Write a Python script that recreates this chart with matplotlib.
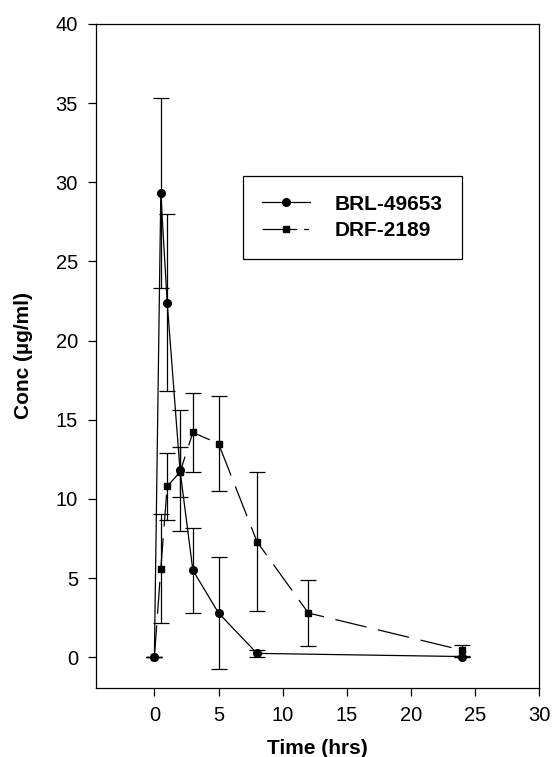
import matplotlib
matplotlib.use("Agg")
import matplotlib.pyplot as plt
from matplotlib.lines import Line2D

plt.rcParams['font.family'] = ['Liberation Sans', 'DejaVu Sans']
plt.rcParams['lines.scale_dashes'] = False

# Data
brl_time = [0, 0.5, 1, 2, 3, 5, 8, 24]
brl_conc = [0.0, 29.3, 22.4, 11.8, 5.5, 2.8, 0.25, 0.05]
brl_sd = [0.0, 6.0, 5.6, 3.8, 2.7, 3.55, 0.2, 0.0]

drf_time = [0, 0.5, 1, 2, 3, 5, 8, 12, 24]
drf_conc = [0.0, 5.6, 10.8, 11.7, 14.2, 13.5, 7.3, 2.8, 0.45]
drf_sd = [0.0, 3.45, 2.1, 1.6, 2.5, 3.0, 4.4, 2.1, 0.35]

x_ticks = [0, 5, 10, 15, 20, 25, 30]
y_ticks = [0, 5, 10, 15, 20, 25, 30, 35, 40]

fig = plt.figure(figsize=(5.53, 7.57), dpi=100)
ax = fig.add_axes([0.1736, 0.0915, 0.8016, 0.8768])

dash = (0, (23, 8.5))

ax.errorbar(drf_time, drf_conc, yerr=drf_sd, color='black', linestyle=dash,
            linewidth=0.9, marker='s', markersize=4.5, capsize=5.8,
            elinewidth=0.9, capthick=0.9, zorder=3)
ax.errorbar(brl_time, brl_conc, yerr=brl_sd, color='black', linestyle='-',
            linewidth=0.9, marker='o', markersize=5.5, capsize=5.8,
            elinewidth=0.9, capthick=0.9, zorder=4)

ax.set_xlim(-4.55, 30)
ax.set_ylim(-1.92, 40)
ax.set_xticks(x_ticks)
ax.set_yticks(y_ticks)
ax.tick_params(direction='out', length=5.5, width=0.9, labelsize=14.5, pad=7.5)
for s in ax.spines.values():
    s.set_linewidth(0.9)

ax.set_xlabel('Time (hrs)', fontsize=15, fontweight='bold')
ax.set_ylabel('Conc (µg/ml)', fontsize=15, fontweight='bold')
ax.xaxis.set_label_coords(0.5, -0.077)
ax.yaxis.set_label_coords(-0.142, 0.5)

handles = [
    Line2D([], [], color='black', linestyle='-', linewidth=0.9, marker='o', markersize=5.5),
    Line2D([], [], color='black', linestyle=(0, (25, 5, 3.5, 10)), linewidth=0.9, marker='s', markersize=4.5),
]
leg = ax.legend(handles, ['BRL-49653', 'DRF-2189'], loc='upper left',
                bbox_to_anchor=(0.332, 0.771), frameon=True, fancybox=False,
                edgecolor='black', framealpha=1, handlelength=2.3,
                handletextpad=1.2, borderpad=0.9, labelspacing=0.35,
                prop={'weight': 'bold', 'size': 15}, borderaxespad=0)
leg.get_frame().set_linewidth(0.9)

fig.savefig('out.png', dpi=100)
